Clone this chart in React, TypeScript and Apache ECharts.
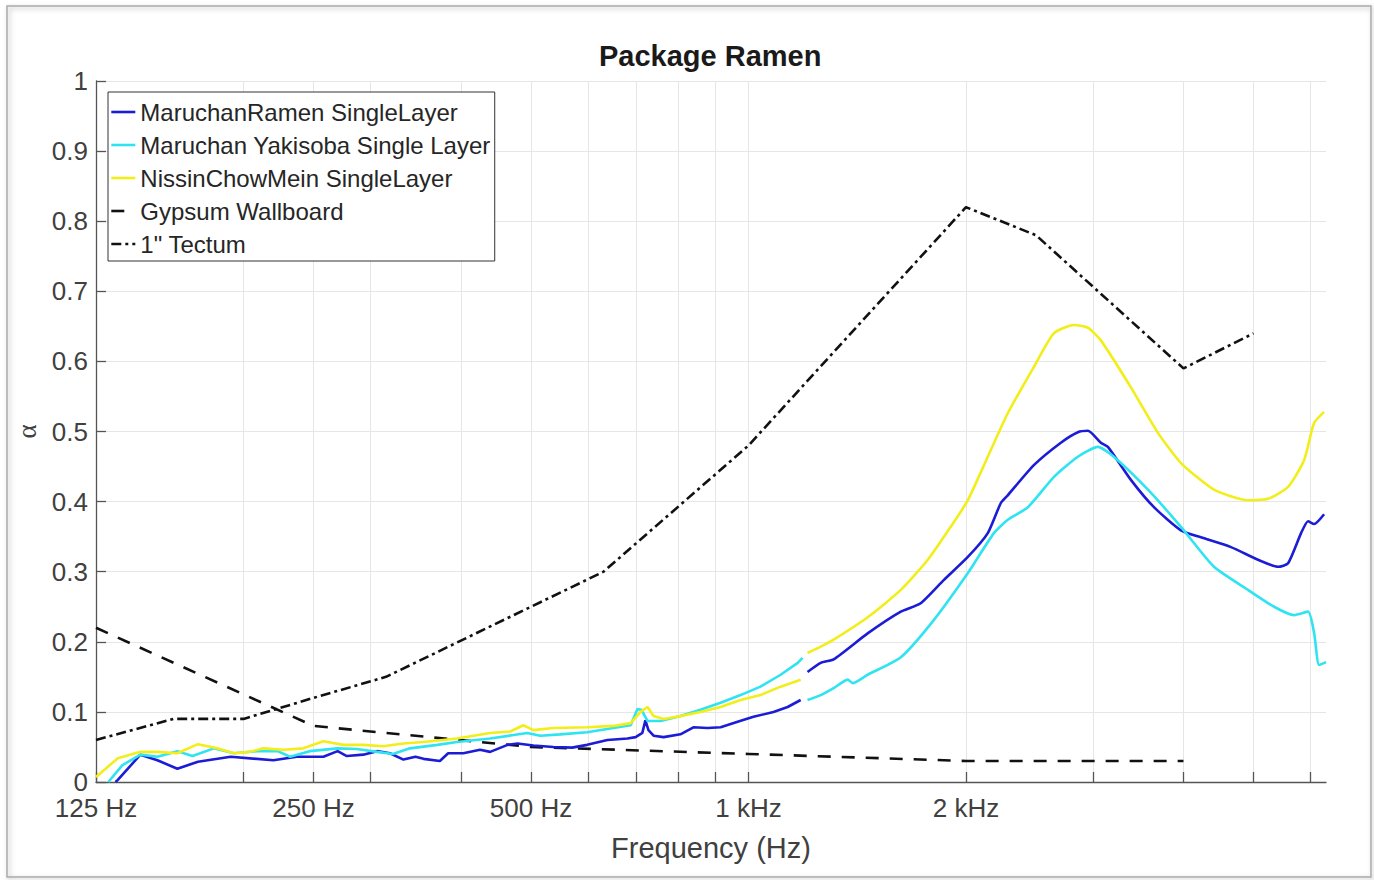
import React, { useEffect, useRef } from 'react';
import * as echarts from 'echarts';

const FONT = '"Liberation Sans", Arial, Helvetica, sans-serif';
const SERIF = '"Liberation Serif", "DejaVu Serif", serif';

const chartTitle = 'Package Ramen';
const xName = 'Frequency (Hz)';
const yName = 'α';

const seriesNames = [
  'MaruchanRamen SingleLayer',
  'Maruchan Yakisoba Single Layer',
  'NissinChowMein SingleLayer',
  'Gypsum Wallboard',
  '1" Tectum',
];
const seriesColors = ['#1c1cd6', '#2fe4f0', '#f2ee1a', '#111111', '#111111'];

const xTickFreqs = [125, 200, 250, 300, 400, 500, 600, 700, 800, 900, 1000, 2000, 3000, 4000, 5000, 6000];
const xLabelFreqs = [125, 250, 500, 1000, 2000];
const xLabelTexts = ['125 Hz', '250 Hz', '500 Hz', '1 kHz', '2 kHz'];
const yTickValues = [0, 0.1, 0.2, 0.3, 0.4, 0.5, 0.6, 0.7, 0.8, 0.9, 1];
const yTickLabels = ['0', '0.1', '0.2', '0.3', '0.4', '0.5', '0.6', '0.7', '0.8', '0.9', '1'];

// low-frequency measurement range (below ~1.2 kHz)
const ramenLow = [
  [133, 0.0], [134, 0.003], [144, 0.039], [152, 0.031], [162, 0.019], [173, 0.029], [192, 0.036],
  [220, 0.031], [237, 0.036], [258, 0.036], [270, 0.044], [278, 0.037], [293, 0.039], [306, 0.044],
  [319, 0.041], [333, 0.032], [346, 0.036], [355, 0.033], [374, 0.030], [384, 0.041], [403, 0.041],
  [425, 0.046], [439, 0.043], [464, 0.053], [479, 0.055], [504, 0.052], [537, 0.050], [570, 0.049],
  [598, 0.053], [638, 0.060], [680, 0.062], [698, 0.064], [713, 0.070], [720, 0.088], [727, 0.074],
  [739, 0.066], [763, 0.064], [805, 0.068], [839, 0.078], [878, 0.077], [915, 0.078], [966, 0.086],
  [1016, 0.093], [1083, 0.100], [1133, 0.107], [1181, 0.117],
];
// high-frequency measurement range (above ~1.2 kHz)
const ramenHigh = [
  [1207, 0.157], [1259, 0.170], [1312, 0.175], [1462, 0.212], [1625, 0.243], [1731, 0.255],
  [1863, 0.288], [2012, 0.321], [2144, 0.355], [2235, 0.398], [2285, 0.409], [2483, 0.452],
  [2706, 0.484], [2857, 0.499], [2950, 0.501], [3074, 0.484], [3144, 0.478], [3383, 0.431],
  [3641, 0.392], [3968, 0.359], [4230, 0.349], [4654, 0.335], [5072, 0.317], [5407, 0.307],
  [5583, 0.312], [5819, 0.355], [5950, 0.372], [6065, 0.368], [6262, 0.382],
];

const yakisobaLow = [
  [130, 0.0], [136, 0.024], [144, 0.039], [152, 0.036], [162, 0.044], [170, 0.037], [182, 0.048],
  [194, 0.041], [209, 0.044], [223, 0.044], [232, 0.036], [247, 0.044], [270, 0.048], [287, 0.047],
  [306, 0.043], [322, 0.040], [340, 0.048], [371, 0.053], [395, 0.057], [439, 0.062], [473, 0.067],
  [494, 0.070], [515, 0.066], [549, 0.068], [598, 0.071], [650, 0.077], [687, 0.081], [702, 0.104],
  [711, 0.103], [725, 0.087], [756, 0.087], [805, 0.094], [858, 0.103], [915, 0.113], [975, 0.124],
  [1039, 0.136], [1108, 0.153], [1170, 0.170], [1188, 0.177],
];
const yakisobaHigh = [
  [1207, 0.117], [1259, 0.124], [1312, 0.134], [1372, 0.146], [1394, 0.141], [1462, 0.153],
  [1625, 0.178], [1805, 0.231], [2012, 0.298], [2186, 0.355], [2285, 0.374], [2436, 0.392],
  [2646, 0.435], [2857, 0.464], [3045, 0.478], [3204, 0.464], [3572, 0.417], [3968, 0.364],
  [4409, 0.307], [4914, 0.274], [5339, 0.250], [5690, 0.238], [5950, 0.243], [6065, 0.213],
  [6163, 0.167], [6302, 0.171],
];

const chowMeinLow = [
  [125, 0.007], [134, 0.034], [144, 0.043], [152, 0.043], [162, 0.041], [173, 0.054], [184, 0.048],
  [194, 0.041], [204, 0.043], [213, 0.048], [227, 0.046], [242, 0.048], [258, 0.058], [275, 0.053],
  [293, 0.053], [312, 0.051], [333, 0.055], [355, 0.057], [395, 0.062], [439, 0.070], [468, 0.072],
  [488, 0.081], [504, 0.074], [537, 0.077], [598, 0.078], [650, 0.080], [687, 0.084], [709, 0.100],
  [725, 0.107], [739, 0.094], [763, 0.090], [805, 0.094], [858, 0.100], [915, 0.107], [975, 0.117],
  [1039, 0.124], [1108, 0.136], [1181, 0.146],
];
const chowMeinHigh = [
  [1207, 0.184], [1259, 0.193], [1312, 0.203], [1462, 0.235], [1625, 0.274], [1771, 0.317],
  [1905, 0.364], [2012, 0.402], [2144, 0.464], [2285, 0.526], [2483, 0.592], [2646, 0.640],
  [2821, 0.652], [2950, 0.648], [3074, 0.630], [3383, 0.563], [3688, 0.498], [3968, 0.455],
  [4409, 0.417], [4914, 0.402], [5238, 0.404], [5583, 0.421], [5875, 0.459], [6065, 0.512],
  [6262, 0.528],
];

const gypsumFreqs = [125, 250, 500, 1000, 2000, 4000];
const gypsumAlpha = [0.22, 0.08, 0.05, 0.04, 0.03, 0.03];

const tectumFreqs = [125, 160, 200, 250, 315, 500, 630, 1000, 2000, 2500, 4000, 5000];
const tectumAlpha = [0.06, 0.09, 0.09, 0.12, 0.15, 0.25, 0.30, 0.48, 0.82, 0.78, 0.59, 0.64];

const zip = (xs: number[], ys: number[]) => xs.map((x, i) => [x, ys[i]]);

export default function App() {
  const ref = useRef<HTMLDivElement>(null);

  useEffect(() => {
    if (!ref.current) return;
    const chart = echarts.init(ref.current, undefined, { renderer: 'svg' });

    const measured = [
      [ramenLow, ramenHigh],
      [yakisobaLow, yakisobaHigh],
      [chowMeinLow, chowMeinHigh],
    ];
    const lineSeries: any[] = [];
    measured.forEach(([low, high], i) => {
      lineSeries.push({
        name: seriesNames[i],
        type: 'line',
        data: low,
        symbol: 'none',
        showSymbol: false,
        lineStyle: { color: seriesColors[i], width: 2.6 },
        itemStyle: { color: seriesColors[i] },
        z: 3 + i,
      });
      lineSeries.push({
        name: seriesNames[i],
        type: 'line',
        data: high,
        symbol: 'none',
        showSymbol: false,
        smooth: 0.2,
        lineStyle: { color: seriesColors[i], width: 2.6 },
        itemStyle: { color: seriesColors[i] },
        z: 3 + i,
      });
    });
    lineSeries.push({
      name: seriesNames[3],
      type: 'line',
      data: zip(gypsumFreqs, gypsumAlpha),
      symbol: 'none',
      lineStyle: { color: seriesColors[3], width: 2.6, type: [13, 11] },
      itemStyle: { color: seriesColors[3] },
      z: 2,
    });
    lineSeries.push({
      name: seriesNames[4],
      type: 'line',
      data: zip(tectumFreqs, tectumAlpha),
      symbol: 'none',
      lineStyle: { color: seriesColors[4], width: 2.6, type: [10, 4, 3, 4] },
      itemStyle: { color: seriesColors[4] },
      z: 2,
    });

    const option: any = {
      animation: false,
      backgroundColor: '#ffffff',
      title: {
        text: chartTitle,
        left: 599,
        top: 41,
        padding: 0,
        textStyle: { fontFamily: FONT, fontSize: 29, fontWeight: 'bold', color: '#1a1a1a' },
      },
      grid: { left: 96, right: 48, top: 81, bottom: 98, containLabel: false, outerBoundsMode: 'none' },
      legend: {
        orient: 'vertical',
        left: 108,
        top: 92,
        padding: [7, 4, 4, 2],
        itemWidth: 24,
        itemHeight: 14,
        itemGap: 7,
        itemStyle: { opacity: 0 },
        lineStyle: { width: 2.6 },
        backgroundColor: '#ffffff',
        borderColor: '#333333',
        borderWidth: 1,
        borderRadius: 0,
        textStyle: { fontFamily: FONT, fontSize: 24, color: '#262626', lineHeight: 26 },
        data: seriesNames,
      },
      xAxis: {
        type: 'log',
        logBase: 10,
        min: 125,
        max: 6300,
        name: xName,
        nameLocation: 'middle',
        nameGap: 51,
        nameTextStyle: { fontFamily: FONT, fontSize: 29, color: '#404040' },
        axisLine: { show: true, lineStyle: { color: '#555555', width: 1.3 } },
        axisTick: { show: true, inside: true, length: 10, customValues: xTickFreqs, lineStyle: { color: '#555555', width: 1.3 } },
        axisLabel: {
          customValues: xLabelFreqs,
          fontFamily: FONT,
          fontSize: 26,
          lineHeight: 22,
          color: '#404040',
          margin: 15,
          hideOverlap: false,
          formatter: (v: number) => {
            const i = xLabelFreqs.findIndex((f) => Math.abs(f - v) < f * 1e-6);
            return i >= 0 ? xLabelTexts[i] : '';
          },
        },
        splitLine: { show: true, lineStyle: { color: '#e6e6e6', width: 1 } },
        minorTick: { show: false },
        minorSplitLine: { show: false },
      },
      yAxis: {
        type: 'value',
        min: 0,
        max: 1,
        interval: 0.1,
        name: yName,
        nameLocation: 'middle',
        nameRotate: 90,
        nameGap: 39,
        nameTextStyle: { fontFamily: SERIF, fontSize: 27, color: '#404040' },
        axisLine: { show: true, lineStyle: { color: '#555555', width: 1.3 } },
        axisTick: { show: true, inside: true, length: 10, lineStyle: { color: '#555555', width: 1.3 } },
        axisLabel: {
          fontFamily: FONT,
          fontSize: 26,
          lineHeight: 20,
          color: '#404040',
          margin: 8,
          formatter: (v: number) => {
            const i = yTickValues.findIndex((t) => Math.abs(t - v) < 1e-6);
            return i >= 0 ? yTickLabels[i] : '';
          },
        },
        splitLine: { show: true, lineStyle: { color: '#e6e6e6', width: 1 } },
      },
      graphic: [
        {
          type: 'rect',
          silent: true,
          z: -10,
          shape: { x: 7, y: 6, width: 1364, height: 871 },
          style: {
            fill: 'none',
            stroke: '#a9a9a9',
            lineWidth: 1.5,
            shadowBlur: 5,
            shadowColor: 'rgba(0,0,0,0.3)',
            shadowOffsetX: 2,
            shadowOffsetY: 2,
          },
        },
      ],
      series: lineSeries,
    };

    chart.setOption(option);
    return () => {
      chart.dispose();
    };
  }, []);

  return <div ref={ref} style={{ position: 'absolute', left: 0, top: 0, width: 1374, height: 880 }} />;
}
